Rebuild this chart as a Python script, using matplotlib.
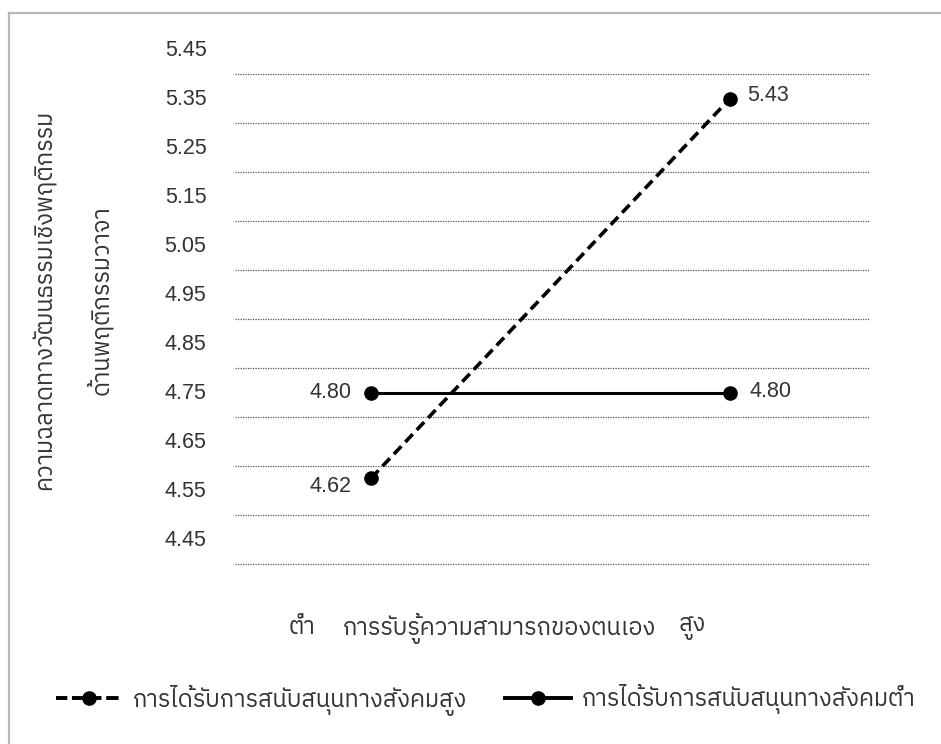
import matplotlib
matplotlib.use("Agg")
import matplotlib.pyplot as plt
from matplotlib import font_manager
from matplotlib.ft2font import FT2Font
from matplotlib.lines import Line2D

# data
x_pos = [1, 2]
categories = ["ต่ำ", "สูง"]
high_support = [4.625, 5.40]
low_support = [4.80, 4.80]
high_labels = ["4.62", "5.43"]
low_labels = ["4.80", "4.80"]
y_ticks = [4.45, 4.55, 4.65, 4.75, 4.85, 4.95, 5.05, 5.15, 5.25, 5.35, 5.45]
series_names = ["การได้รับการสนับสนุนทางสังคมสูง", "การได้รับการสนับสนุนทางสังคมต่ำ"]
x_title = "การรับรู้ความสามารถของตนเอง"
y_title = ["ความฉลาดทางวัฒนธรรมเชิงพฤติกรรม", "ด้านพฤติกรรมวาจา"]


def find_thai_font():
    found = []
    for f in font_manager.fontManager.ttflist:
        try:
            if 0x0E01 in FT2Font(f.fname).get_charmap():
                found.append(f.name)
        except Exception:
            pass
    for name in found:
        if "Sans" in name:
            return name
    return found[0] if found else "DejaVu Sans"


thai = find_thai_font()
plt.rcParams['font.family'] = [thai, 'Liberation Sans', 'DejaVu Sans']
txt = '#333333'
fs_num = 15.5
fs_thai = 17

fig = plt.figure(figsize=(9.41, 7.44), dpi=100)
ax = fig.add_axes([235 / 941, 1 - 564 / 744, 634 / 941, 490 / 744])

ax.set_xlim(0.621, 2.387)
ax.set_ylim(4.45, 5.45)
for s in ax.spines.values():
    s.set_visible(False)
ax.set_xticks([])
ax.set_yticks([])

# dotted gridlines
ax.hlines(y_ticks, 0.621, 2.387, colors='#555555', linestyles=(0, (1, 1)),
          linewidth=0.9, clip_on=False, zorder=1)

# tick labels sit half a step above their gridline, like the original
for v in y_ticks:
    ax.text(-0.045, v + 0.048, f"{v:.2f}", transform=ax.get_yaxis_transform(),
            ha='right', va='center', fontsize=fs_num, color=txt,
            family=['Liberation Sans'])

ax.plot(x_pos, high_support, color='black', lw=2.6, ls=(0, (3, 1.6)),
        marker='o', ms=9.5, clip_on=False, zorder=3)
ax.plot(x_pos, low_support, color='black', lw=2.2, ls='-',
        marker='o', ms=9.5, clip_on=False, zorder=3)

lab_kw = dict(textcoords='offset points', fontsize=fs_num, color=txt,
              va='center', family=['Liberation Sans'])
ax.annotate(low_labels[0], (x_pos[0], low_support[0]), xytext=(-14, 0), ha='right', **lab_kw)
ax.annotate(low_labels[1], (x_pos[1], low_support[1]), xytext=(14, 1), ha='left', **lab_kw)
ax.annotate(high_labels[0], (x_pos[0], high_support[0]), xytext=(-14, -6), ha='right', **lab_kw)
ax.annotate(high_labels[1], (x_pos[1], high_support[1]), xytext=(12, 2), ha='left', **lab_kw)

# x axis texts
fig.text(302 / 941, 1 - 628 / 744, categories[0], ha='center', va='center', fontsize=fs_thai, color=txt)
fig.text(500 / 941, 1 - 628 / 744, x_title, ha='center', va='center', fontsize=fs_thai, color=txt)
fig.text(692 / 941, 1 - 628 / 744, categories[1], ha='center', va='center', fontsize=fs_thai, color=txt)

# y title, two lines rotated
fig.text(45 / 941, 1 - 300 / 744, y_title[0], rotation=90, ha='center', va='center',
         fontsize=fs_thai, color=txt)
fig.text(100 / 941, 1 - 300 / 744, y_title[1], rotation=90, ha='center', va='center',
         fontsize=fs_thai, color=txt)

handles = [
    Line2D([], [], color='black', lw=2.8, ls=(0.3, (3.2, 1.2)), marker='o', ms=9.5),
    Line2D([], [], color='black', lw=2.8, ls='-', marker='o', ms=9.5),
]
leg = fig.legend(handles, series_names, loc='center', ncol=2,
                 bbox_to_anchor=(486 / 941, 1 - 700 / 744), frameon=False,
                 fontsize=fs_thai, handlelength=2.8, handletextpad=0.45,
                 columnspacing=1.6)
for t in leg.get_texts():
    t.set_color(txt)

# outer frame (only left and top show)
fig.add_artist(Line2D([9 / 941, 9 / 941], [0, 1 - 13 / 744], color='#b8b8b8', lw=1.6,
                      transform=fig.transFigure))
fig.add_artist(Line2D([9 / 941, 1], [1 - 13 / 744, 1 - 13 / 744], color='#b8b8b8', lw=1.6,
                      transform=fig.transFigure))

fig.savefig('out.png', dpi=100)
